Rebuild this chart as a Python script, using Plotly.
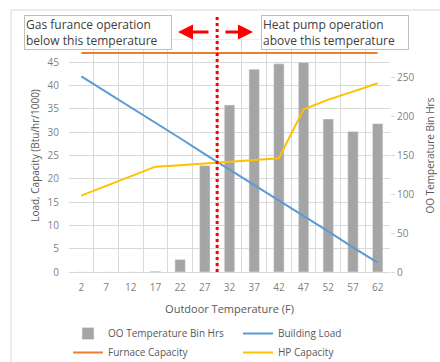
import plotly.graph_objects as go

temps = ["2", "7", "12", "17", "22", "27", "32", "37", "42", "47", "52", "57", "62"]
bin_hrs = [0, 0, 0, 1, 16, 137, 215, 261, 268, 270, 197, 181, 191]
building_load = [42.0, 38.7, 35.3, 32.0, 28.7, 25.3, 22.0, 18.7, 15.3, 12.0, 8.7, 5.3, 2.0]
furnace_cap = [47.0] * 13
hp_cap = [16.4, 18.5, 20.5, 22.6, 22.9, 23.3, 23.7, 24.0, 24.4, 34.9, 37.0, 38.7, 40.5]
left_ticks = [0, 5, 10, 15, 20, 25, 30, 35, 40, 45]
right_ticks = [0, 50, 100, 150, 200, 250]

W, H = 440, 362
L, R, T, B = 69, 50, 39, 90
pw, ph = W - L - R, H - T - B

def px(xp):
    return (xp - L) / pw

def py(yp):
    return (H - B - yp) / ph

grey_txt = "#7f7f7f"
grid = "#d9d9d9"
font = "Open Sans"

fig = go.Figure()
fig.add_trace(go.Bar(x=temps, y=bin_hrs, name="OO Temperature Bin Hrs",
                     marker_color="#a5a5a5", width=0.42, yaxis="y"))
fig.add_trace(go.Scatter(x=temps, y=building_load, name="Building Load", mode="lines",
                         line=dict(color="#5b9bd5", width=2), yaxis="y2"))
fig.add_trace(go.Scatter(x=temps, y=furnace_cap, name="Furnace Capacity", mode="lines",
                         line=dict(color="#ed7d31", width=2), yaxis="y2"))
fig.add_trace(go.Scatter(x=temps, y=hp_cap, name="HP Capacity", mode="lines",
                         line=dict(color="#ffc000", width=2), yaxis="y2"))

fig.update_layout(
    width=W, height=H,
    margin=dict(l=L, r=R, t=T, b=B, autoexpand=False),
    paper_bgcolor="white", plot_bgcolor="white",
    font=dict(family=font, size=10, color=grey_txt),
    xaxis=dict(type="category", tickson="boundaries", showgrid=True, gridcolor=grid,
               ticks="", showline=True, linecolor=grid, tickfont=dict(size=10, color=grey_txt),
               ticklabelstandoff=6,
               title=dict(text="Outdoor Temperature (F)", font=dict(size=11, color="#595959"), standoff=12)),
    yaxis=dict(side="right", range=[0, 300], tickvals=right_ticks, showgrid=False, zeroline=False,
               ticks="outside", ticklen=4, tickcolor=grid, tickfont=dict(size=10, color=grey_txt),
               title=dict(text="OO Temperature Bin Hrs", font=dict(size=10, color="#595959"), standoff=13)),
    yaxis2=dict(side="left", overlaying="y", range=[0, 50], tickvals=left_ticks,
                showgrid=True, gridcolor=grid, zeroline=False, tickfont=dict(size=10, color=grey_txt),
                ticklabelstandoff=9,
                title=dict(text="Load, Capacity (Btu/hr/1000)", font=dict(size=10, color="#595959"), standoff=6)),
    legend=dict(orientation="h", x=px(68), xanchor="left", y=py(319), yanchor="top",
                entrywidth=125, font=dict(size=10, color="#595959"), traceorder="normal",
                itemwidth=30, tracegroupgap=0),
    showlegend=True,
)

# gridline at top (50) for left axis
fig.add_shape(type="line", xref="paper", yref="y2", x0=0, x1=1, y0=50, y1=50,
              line=dict(color=grid, width=1), layer="below")

# outer chart frame
fig.add_shape(type="rect", xref="paper", yref="paper", x0=px(11), x1=px(450), y0=py(370), y1=py(10),
              line=dict(color="#d9d9d9", width=1), layer="below")

# red dotted divider between 27 and 32
fig.add_shape(type="line", xref="x", yref="paper", x0=5.5, x1=5.5, y0=0, y1=py(17),
              line=dict(color="#ff0000", width=3, dash="dot"))

# arrows
fig.add_annotation(xref="paper", yref="paper", x=px(178), y=py(32), ax=32, ay=0, text="",
                   showarrow=True, arrowhead=2, arrowsize=1, arrowwidth=3, arrowcolor="#ff0000")
fig.add_annotation(xref="paper", yref="paper", x=px(253), y=py(32), ax=-29, ay=0, text="",
                   showarrow=True, arrowhead=2, arrowsize=1, arrowwidth=3, arrowcolor="#ff0000")

# text boxes
for cx, txt in [(98, "Gas furance operation<br>below this temperature"),
                (334.5, "Heat pump operation<br>above this temperature")]:
    fig.add_annotation(xref="paper", yref="paper", x=px(cx), y=py(33), xanchor="center", yanchor="middle",
                       text=txt, showarrow=False, align="left", width=144, height=31,
                       bgcolor="white", bordercolor="#bfbfbf", borderwidth=1, borderpad=1,
                       font=dict(family=font, size=12, color="#404040"))

fig.write_html("out.html", config={"displayModeBar": False},
               post_script="document.body.style.margin='0';document.body.style.overflow='hidden';")
